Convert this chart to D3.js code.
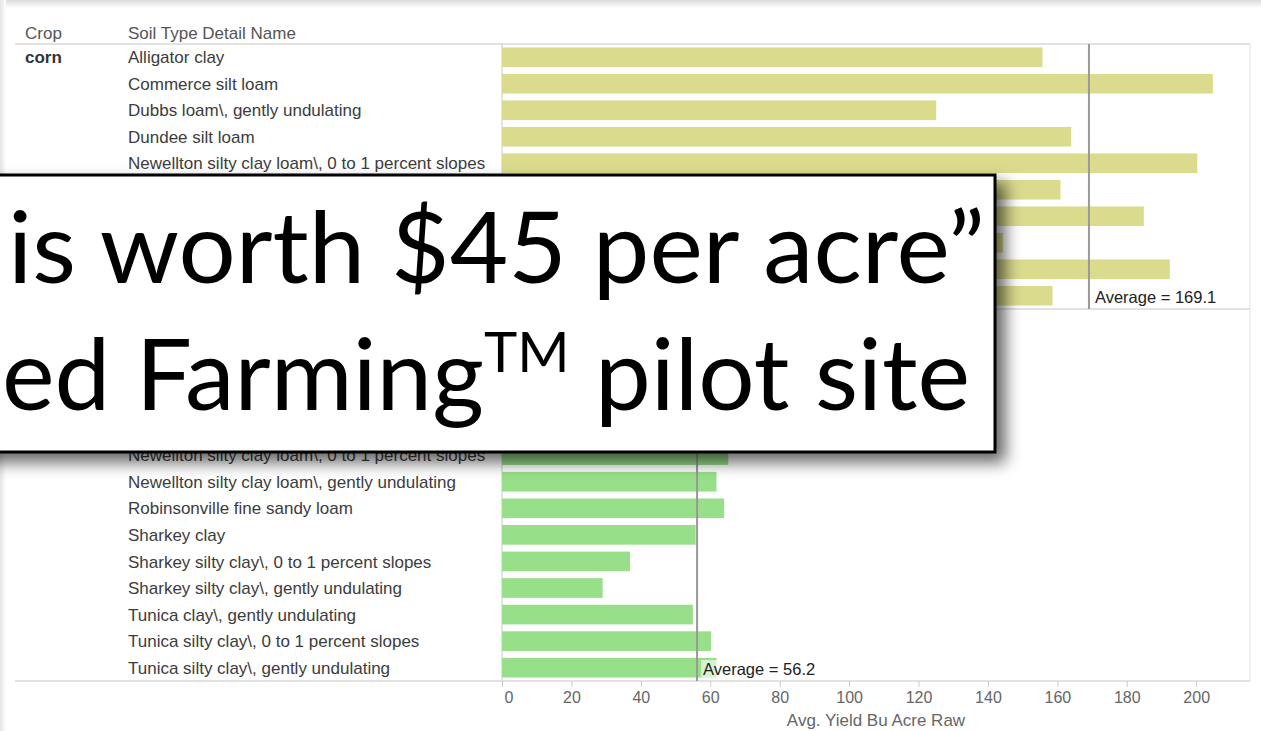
<!DOCTYPE html>
<html>
<head>
<meta charset="utf-8">
<script src="https://cdn.jsdelivr.net/npm/d3@7"></script>
<style>
body{margin:0;background:#fff;}
svg text{font-family:"Liberation Sans",Arial,sans-serif;}
.row_label{font-size:17px;fill:#3c3c3c;}
.crop_label{font-size:17px;fill:#333;font-weight:bold;}
.header_label{font-size:17px;fill:#555;}
.avg_label{font-size:16.5px;fill:#222;}
.axis text{font-size:16px;fill:#666;}
.axis_title{font-size:17px;fill:#666;}
.slide_text{font-family:Lato,"Open Sans",sans-serif !important;font-size:99px;fill:#000;}
</style>
</head>
<body>
<div id="chart"></div>
<script>
const width = 1261;
const height = 731;

const crops = ['corn', 'soybean']
const cornSoils = ['Alligator clay', 'Commerce silt loam', 'Dubbs loam\\, gently undulating', 'Dundee silt loam',
    'Newellton silty clay loam\\, 0 to 1 percent slopes', 'Newellton silty clay loam\\, gently undulating',
    'Robinsonville fine sandy loam', 'Sharkey clay', 'Sharkey silty clay\\, 0 to 1 percent slopes', 'Tunica silty clay\\, 0 to 1 percent slopes']
const cornYield = [155.7, 204.8, 125.1, 164.0, 200.3, 160.9, 184.9, 144.3, 192.4, 158.6]
const soySoils = ['Alligator clay', 'Bosket very fine sandy loam', 'Commerce silt loam', 'Dubbs loam\\, gently undulating', 'Dundee silt loam',
    'Newellton silty clay loam\\, 0 to 1 percent slopes', 'Newellton silty clay loam\\, gently undulating',
    'Robinsonville fine sandy loam', 'Sharkey clay', 'Sharkey silty clay\\, 0 to 1 percent slopes', 'Sharkey silty clay\\, gently undulating',
    'Tunica clay\\, gently undulating', 'Tunica silty clay\\, 0 to 1 percent slopes', 'Tunica silty clay\\, gently undulating']
const soyYield = [58.0, 61.5, 57.0, 62.0, 58.6, 65.2, 61.8, 64.0, 55.8, 36.9, 29.0, 55.0, 60.2, 61.8]
const xTicks = [0, 20, 40, 60, 80, 100, 120, 140, 160, 180, 200]
const colors = {corn:'#dbdb8d', soybean:'#98df8a'}

const panes = [
    {crop:crops[0], soils:cornSoils, values:cornYield, top:44, bottom:309},
    {crop:crops[1], soils:soySoils, values:soyYield, top:309, bottom:681}
]
// slide callout pasted over the chart
const box = {x:-20, y:175, w:1015, h:277}
const underBox = (yy)=> yy > box.y+8 && yy < box.y+box.h-8

const svg = d3.select('#chart')
    .append('svg')
    .attr('width', width)
    .attr('height', height)

const defs = svg.append('defs')
const edge = defs.append('linearGradient').attr('id','edgeTop').attr('x1',0).attr('x2',0).attr('y1',0).attr('y2',1)
edge.append('stop').attr('offset','0%').attr('stop-color','#dcdcdc')
edge.append('stop').attr('offset','100%').attr('stop-color','#fff')
const edgeL = defs.append('linearGradient').attr('id','edgeLeft').attr('x1',0).attr('x2',1).attr('y1',0).attr('y2',0)
edgeL.append('stop').attr('offset','0%').attr('stop-color','#e4e4e4')
edgeL.append('stop').attr('offset','100%').attr('stop-color','#fff')

const shadow = defs.append('filter').attr('id','shadow')
    .attr('x','-5%').attr('y','-10%').attr('width','120%').attr('height','140%')
shadow.append('feDropShadow')
    .attr('dx',9).attr('dy',9).attr('stdDeviation',8)
    .attr('flood-color','#000').attr('flood-opacity',0.6)

svg.append('rect').attr('x',0).attr('y',0).attr('width',width).attr('height',8).attr('fill','url(#edgeTop)')
svg.append('rect').attr('x',0).attr('y',0).attr('width',6).attr('height',height).attr('fill','url(#edgeLeft)')

const x = d3.scaleLinear().domain([0, 215.5]).range([502, 1250])

// header
svg.append('text').attr('class','header_label').attr('x',25).attr('y',39).text('Crop')
svg.append('text').attr('class','header_label').attr('x',128).attr('y',39).text('Soil Type Detail Name')

const grid = svg.append('g')
grid.selectAll('line.hline')
    .data([44, 309, 681])
    .enter()
    .append('line')
        .attr('x1',15).attr('x2',1250)
        .attr('y1',d=>d).attr('y2',d=>d)
        .attr('stroke','#d9d9d9').attr('stroke-width',1.5)
grid.append('line').attr('x1',x(0)).attr('x2',x(0)).attr('y1',44).attr('y2',681).attr('stroke','#c8c8c8')
grid.append('line').attr('x1',1250).attr('x2',1250).attr('y1',44).attr('y2',681).attr('stroke','#e2e2e2')

panes.forEach((p)=>{
    const y = d3.scaleBand()
        .domain(p.soils)
        .range([p.top, p.bottom])
        .paddingInner(0.26)
        .paddingOuter(0.13)
    const rows = p.soils.map((s,i)=>({soil:s, value:p.values[i]}))
    const g = svg.append('g').attr('class','pane')

    g.selectAll('rect')
        .data(rows)
        .enter()
        .append('rect')
            .attr('x', x(0))
            .attr('y', d=>y(d.soil))
            .attr('width', d=>x(d.value)-x(0))
            .attr('height', y.bandwidth())
            .attr('fill', colors[p.crop])

    g.selectAll('text.row_label')
        .data(rows)
        .enter()
        .append('text')
            .attr('class','row_label')
            .attr('x',128)
            .attr('y', d=>y(d.soil)+y.bandwidth()/2)
            .attr('dy','0.36em')
            .style('display', d=> underBox(y(d.soil)+y.bandwidth()/2) ? 'none' : null)
            .text(d=>d.soil)

    const cy = y(p.soils[0])+y.bandwidth()/2
    g.append('text')
        .attr('class','crop_label')
        .attr('x',25)
        .attr('y', cy)
        .attr('dy','0.36em')
        .style('display', underBox(cy) ? 'none' : null)
        .text(p.crop)

    // reference line
    const avg = d3.mean(p.values)
    g.append('line')
        .attr('x1',x(avg)).attr('x2',x(avg))
        .attr('y1',p.top).attr('y2',p.bottom)
        .attr('stroke','#999').attr('stroke-width',2)
    const label = g.append('text')
        .attr('class','avg_label')
        .attr('x',x(avg)+6)
        .attr('y',p.bottom-6)
        .text('Average = '+d3.format('.1f')(avg))
    const bb = label.node().getBBox()
    g.insert('rect','text.avg_label')
        .attr('x',bb.x-2).attr('y',bb.y)
        .attr('width',bb.width+4).attr('height',bb.height)
        .attr('fill','#fff').attr('opacity',0.6)
})

const xAxis = d3.axisBottom(x).tickValues(xTicks).tickSize(6).tickPadding(5)
const axisG = svg.append('g')
    .attr('class','axis')
    .attr('transform','translate(0,681)')
    .call(xAxis)
axisG.select('.domain').remove()
axisG.selectAll('.tick line').attr('stroke','#ccc')
axisG.selectAll('.tick text')
    .attr('text-anchor', d=> d===0 ? 'start' : 'middle')
    .attr('dx', d=> d===0 ? 2 : 0)

svg.append('text')
    .attr('class','axis_title')
    .attr('x',(x.range()[0]+x.range()[1])/2)
    .attr('y',726)
    .attr('text-anchor','middle')
    .text('Avg. Yield Bu Acre Raw')

// slide callout on top
const slide = svg.append('g')
slide.append('rect')
    .attr('x',box.x).attr('y',box.y)
    .attr('width',box.w).attr('height',box.h)
    .attr('fill','#fff')
    .attr('stroke','#000').attr('stroke-width',3)
    .attr('filter','url(#shadow)')

slide.append('text')
    .attr('class','slide_text')
    .attr('x',8).attr('y',283)
    .attr('textLength',977).attr('lengthAdjust','spacingAndGlyphs')
    .text('is worth $45 per acre\u201d')

const line2 = slide.append('text')
    .attr('class','slide_text')
    .attr('x',2).attr('y',410)
    .attr('textLength',968).attr('lengthAdjust','spacingAndGlyphs')
line2.append('tspan').text('ed Farming')
line2.append('tspan').attr('font-size','56px').attr('dy',-38).text('TM')
line2.append('tspan').attr('dy',38).text(' pilot site')
</script>
</body>
</html>
